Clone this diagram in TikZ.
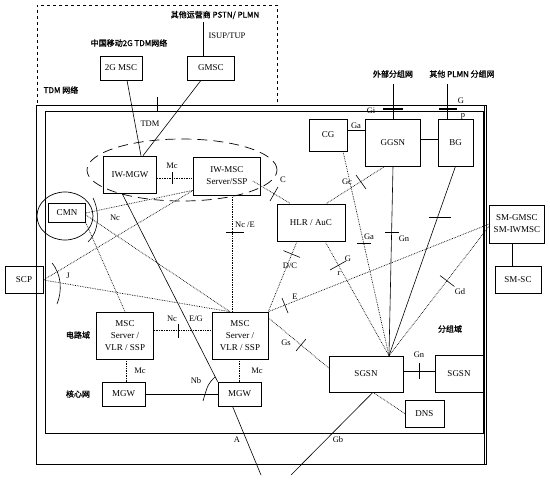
\documentclass[tikz,border=0pt]{standalone}
\usepackage{fontspec}
\setmainfont{Liberation Serif}
\newfontfamily\cjk[FakeBold=1.2]{Noto Sans CJK SC}
\usetikzlibrary{calc}
\tikzset{
  box/.style={draw, line width=0.6pt, inner sep=1pt, align=center, font=\fontsize{9}{12}\selectfont},
  lbl/.style={font=\fontsize{8.5}{9}\selectfont, inner sep=0pt},
  cn/.style={font=\cjk\fontsize{8}{9}\selectfont, inner sep=0pt},
  dot/.style={densely dotted, line width=0.7pt},
  sol/.style={line width=0.6pt},
  tk/.style={line width=0.6pt},
  frame/.style={line width=0.8pt},
}
\begin{document}
\begin{tikzpicture}[x=1pt,y=-1pt]
\useasboundingbox (0,0) rectangle (550,482);
% frames
\draw[dashed, line width=0.7pt] (37,103) -- (37,5) -- (277,5) -- (277,105);
\draw[frame] (36,105) rectangle (486,464);
\draw[frame] (45,111) rectangle (483,433);
\draw[line width=1.4pt] (484.5,105) -- (484.5,464);
% nodes
\node[box, minimum width=42, minimum height=24] (msc2g) at (121,68) {2G MSC};
\node[box, minimum width=47, minimum height=24] (gmsc) at (211,68) {GMSC};
\node[box, minimum width=53, minimum height=37] (iwmgw) at (130,174.5) {IW-MGW};
\node[box, minimum width=67, minimum height=38] (iwmsc) at (227,176) {IW-MSC\\Server/SSP};
\node[box, minimum width=37, minimum height=19] (cmn) at (67,213) {CMN};
\node[box, minimum width=38, minimum height=27] (scp) at (24,280) {SCP};
\node[box, minimum width=57, minimum height=47] (mscL) at (125,335.5) {MSC\\Server /\\VLR / SSP};
\node[box, minimum width=56, minimum height=47] (mscR) at (240,335.5) {MSC\\Server /\\VLR / SSP};
\node[box, minimum width=43, minimum height=24] (mgwL) at (123.5,394) {MGW};
\node[box, minimum width=43, minimum height=24] (mgwR) at (239.5,394) {MGW};
\node[box, minimum width=68, minimum height=37] (hlr) at (311,222.5) {HLR / AuC};
\node[box, minimum width=38, minimum height=32] (cg) at (328,135) {CG};
\node[box, minimum width=55, minimum height=47] (ggsn) at (393,142.5) {GGSN};
\node[box, minimum width=35, minimum height=47] (bg) at (455.5,142.5) {BG};
\node[box, minimum width=74, minimum height=36] (sgsn) at (366,374) {SGSN};
\node[box, minimum width=48, minimum height=37] (sgsn2) at (459,373.5) {SGSN};
\node[box, minimum width=39, minimum height=27] (dns) at (424.5,413.5) {DNS};
\node[box, minimum width=55, minimum height=38] (smg) at (517,224) {SM-GMSC\\SM-IWMSC};
\node[box, minimum width=46, minimum height=27] (smsc) at (518,280) {SM-SC};
% ellipses
\draw[dash pattern=on 10pt off 6pt, line width=0.7pt] (182,170) ellipse [x radius=95pt, y radius=31pt];
\draw[line width=0.7pt] (65,216) ellipse [x radius=28pt, y radius=24pt];
\draw[tk] (93,198) .. controls (100,212) and (99,232) .. (88,242);
% coordinates for free ends
\coordinate (pstn) at (203,22);
\coordinate (aend) at (261,475);
\coordinate (gbend) at (291,475);
\coordinate (extnet) at (393,84);
\coordinate (plmnnet) at (447,84);
\coordinate (sgtop) at ($(sgsn.north)+(23,0)$);
% solid connectors
\draw[sol] ($(msc2g.south)+(6,0)$) -- ($(iwmgw.north)+(11,0)$);
\draw[sol] ($(gmsc.south)+(-10,0)$) -- ($(iwmgw.north)+(13,0)$);
\draw[sol] ($(gmsc.north)+(-8,0)$) -- (pstn);
\draw[sol] ($(iwmgw.south)+(-8,0)$) -- (mgwR.north west);
\draw[sol] ($(mgwR.south)+(-7,0)$) -- (aend);
\draw[sol] (mgwL.east) -- (mgwR.west);
\draw[sol] (ggsn.south) -- (sgtop);
\draw[sol] (bg.south) -- (sgtop);
\draw[sol] ($(sgsn.east)+(0,-3)$) -- ($(sgsn2.west)+(0,-2.5)$);
\draw[sol] ($(sgsn.south)+(7,0)$) -- (gbend);
\draw[sol] ($(cg.east)+(0,-5)$) -- ($(ggsn.west)+(0,-12.5)$);
\draw[sol] ($(ggsn.east)+(0,-3.5)$) -- ($(bg.west)+(0,-3.5)$);
\draw[sol] (ggsn.north) -- (extnet);
\draw[sol] ($(bg.north)+(-8.5,0)$) -- (plmnnet);
\draw[sol] ($(smg.south)+(-5,0)$) -- ($(smsc.north)+(-6,0)$);
% dotted connectors
\draw[dot] ($(iwmgw.east)+(0,3.5)$) -- ($(iwmsc.west)+(0,2)$);
\draw[dot] ($(iwmsc.south)+(5,0)$) -- ($(mscR.north)+(-8,0)$);
\draw[dot] ($(mscL.south)+(1,0)$) -- ($(mgwL.north)+(2.5,0)$);
\draw[dot] ($(mscR.south)+(-1,0)$) -- ($(mgwR.north)+(-0.5,0)$);
\draw[dot] ($(mscL.east)+(0,-5)$) -- ($(mscR.west)+(0,-5)$);
\draw[dot] ($(iwmsc.south west)+(0,-5)$) -- (cmn.east);
\draw[dot] ($(iwmsc.south west)+(0,-5)$) -- (scp.east);
\draw[dot] ($(cmn.east)+(0,2)$) -- ($(mscR.north)+(-10,0)$);
\draw[dot] (cmn.south east) -- (mscL.north);
\draw[dot] (scp.east) -- ($(mscR.north)+(-10,0)$);
\draw[dot] ($(iwmsc.east)+(-8,5)$) -- ($(hlr.north west)+(14,0)$);
\draw[dot] ($(ggsn.south)+(-8,0)$) -- ($(hlr.north)+(15,0)$);
\draw[dot] ($(cg.south)+(15,0)$) -- (sgtop);
\draw[dot] ($(smg.west)+(0,2)$) -- (sgtop);
\draw[dot] (smg.west) -- (mscR.north east);
\draw[dot] ($(hlr.south)+(-14,0)$) -- (mscR.north east);
\draw[dot] ($(hlr.south)+(14,0)$) -- (sgtop);
\draw[dot] ($(mscR.north east)+(0,6)$) -- ($(sgsn.west)+(0,-6)$);
\draw[dot] ($(sgsn.south)+(7,0)$) -- (dns.west);
% interface ticks
\draw[tk] (157,97) -- (157,111);
\draw[tk] (172,172) -- (172,184);
\draw[tk] (226,232) -- (244,232);
\draw[tk] (178,324) -- (178,338);
\draw[tk] (270,201) -- (278,187);
\draw[tk] (356,175) -- (366,189);
\draw[tk] (357,243) -- (371,243);
\draw[tk] (385,232) -- (399,232);
\draw[tk] (429,217) -- (451,217);
\draw[tk] (330,270) -- (346,261);
\draw[tk] (283.4,250.6) -- (300,257.4);
\draw[tk] (282,298) -- (288,313);
\draw[tk] (440,275.5) -- (454.4,286.5);
\draw[tk] (296,351) -- (306,339);
\draw[tk] (419,363) -- (419,379);
\draw[tk] (215,377) .. controls (208,384) .. (203,401);
\draw[tk] (52,263) .. controls (62,275) and (62,292) .. (57,304);
\draw[line width=1.6pt] (383,109) -- (403,109);
\draw[line width=1.6pt] (439,109) -- (457,109);
% labels
\node[lbl] (lmc1) at (172,166) {Mc};
\node[lbl] (lnc1) at (115,218) {Nc};
\node[lbl] (lj) at (68,276) {J};
\node[lbl] (lnce) at (245,225) {Nc /E};
\node[lbl] (lc) at (283,180) {C};
\node[lbl] (lgc) at (347,182) {Gc};
\node[lbl] (lga1) at (356,126) {Ga};
\node[lbl] (lga2) at (369,237) {Ga};
\node[lbl] (lgn1) at (404,239) {Gn};
\node[lbl] (lgi) at (371,111) {Gi};
\node[lbl] (lg) at (461,101) {G};
\node[lbl] (lp) at (463,116) {p};
\node[lbl] (ldc) at (290,266) {D/C};
\node[lbl] (lgr1) at (348,259) {G};
\node[lbl] (lgr2) at (339,273) {r};
\node[lbl] (le) at (295,297) {E};
\node[lbl] (lgd) at (460,292) {Gd};
\node[lbl] (lgs) at (286,343) {Gs};
\node[lbl] (lgn2) at (419,355) {Gn};
\node[lbl] (lgb) at (338,440) {Gb};
\node[lbl] (la) at (237,440) {A};
\node[lbl] (lnb) at (196,381) {Nb};
\node[lbl] (lmc2) at (140,371) {Mc};
\node[lbl] (lmc3) at (257,371) {Mc};
\node[lbl] (lnc2) at (172,319) {Nc};
\node[lbl] (leg) at (196,319) {E/G};
\node[lbl] (ltdm) at (150,124) {TDM};
\node[lbl] (lisup) at (227,36) {ISUP/TUP};
\node[cn] (tpstn) at (215,15) {其他运营商 PSTN/ PLMN};
\node[cn] (tcm) at (129,43) {中国移动2G TDM网络};
\node[cn] (ttdm) at (61,90) {TDM 网络};
\node[cn] (text) at (393,74) {外部分组网};
\node[cn] (tplmn) at (462,74) {其他 PLMN 分组网};
\node[cn] (tps) at (450,329) {分组域};
\node[cn] (tcs) at (78,335) {电路域};
\node[cn] (tcore) at (78,394) {核心网};
\end{tikzpicture}
\end{document}
